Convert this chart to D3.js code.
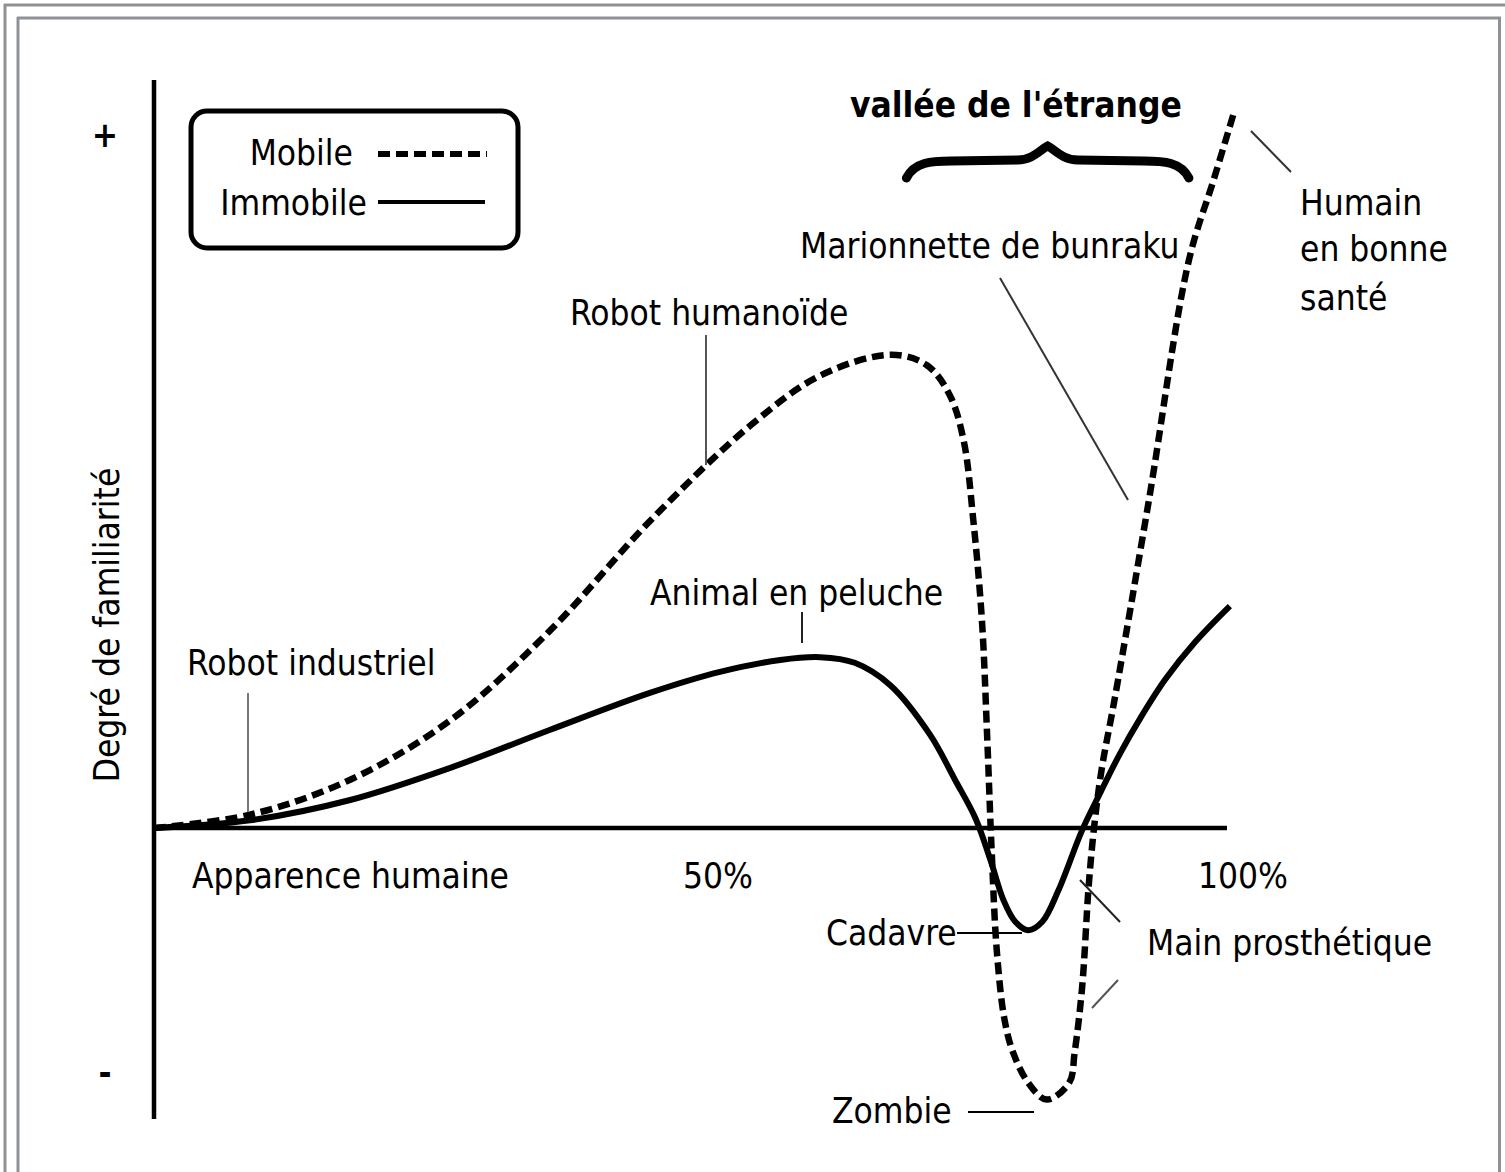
<!DOCTYPE html>
<html><head><meta charset="utf-8">
<script src="https://cdn.jsdelivr.net/npm/d3@7"></script>
<style>
html,body{margin:0;padding:0;background:#fff;}
svg{display:block;}
text{font-family:"DejaVu Sans Condensed","DejaVu Sans",sans-serif;font-stretch:condensed;fill:#000;}
</style></head><body>
<svg id="c" width="1505" height="1172"></svg>
<script>
// ---- data (x: human likeness %, y: familiarity) ----
const mobileX = [0, 8.9, 18.2, 27.5, 36.8, 46.1, 55.4, 61.9, 68.4, 71.7, 73.8, 75.1, 76.0, 76.8, 77.3, 77.7, 78.2, 78.9, 79.7, 81.1, 82.8, 84.9, 85.4, 86.1, 86.7, 87.2, 87.9, 89.1, 92.3, 96.0, 98.3, 100.2];
const mobileY = [0, 1.9, 6.9, 15.4, 28.3, 44.0, 57.6, 64.7, 67.6, 66.1, 61.9, 55.4, 44.0, 29.7, 12.6, -3.1, -17.9, -27.4, -32.1, -36.4, -38.8, -36.4, -32.1, -22.7, -8.4, 0, 8.3, 18.3, 46.9, 81.1, 92.6, 102.3];
const immobileX = [0, 8.9, 18.2, 27.5, 36.7, 46.0, 52.5, 58.1, 61.8, 65.0, 68.3, 72.0, 74.3, 76.2, 77.6, 78.8, 79.9, 81.1, 82.4, 83.9, 86.1, 87.8, 89.6, 91.5, 93.8, 96.6, 99.8];
const immobileY = [0, 1.1, 4.0, 8.6, 14.0, 19.3, 22.3, 24.0, 24.4, 23.6, 20.4, 13.3, 6.9, 1.4, -4.6, -10.3, -13.4, -14.6, -13.4, -8.9, -0.3, 5.1, 10.6, 15.7, 21.2, 26.6, 31.7];
const seriesNames = ["Mobile", "Immobile"];
const xTickValues = [0, 50, 100];
const xTickLabels = ["Apparence humaine", "50%", "100%"];
const yTickValues = [99, -35];
const yTickLabels = ["+", "-"];
const yAxisTitle = "Degré de familiarité";
const valleyTitle = "vallée de l'étrange";
const valleyRange = [69.8, 96.0];

const svg = d3.select("#c");
const W = 1505, H = 1172;
svg.append("rect").attr("width", W).attr("height", H).attr("fill", "#fff");

// frame
const frame = svg.append("g").attr("stroke", "#8e9297").attr("stroke-width", 3).attr("fill", "none");
frame.append("line").attr("x1", 4).attr("y1", 5).attr("x2", W).attr("y2", 5);
frame.append("line").attr("x1", 5).attr("y1", 4).attr("x2", 5).attr("y2", H);
frame.append("line").attr("x1", 17).attr("y1", 18).attr("x2", 1501).attr("y2", 18);
frame.append("line").attr("x1", 18).attr("y1", 17).attr("x2", 18).attr("y2", H);
frame.append("line").attr("x1", 1499.5).attr("y1", 17).attr("x2", 1499.5).attr("y2", H);

const x = d3.scaleLinear().domain([0, 100]).range([154, 1232]);
const y = d3.scaleLinear().domain([-40, 100]).range([1108, 128]);
const FS = 35;

// axes
svg.append("line").attr("x1", 154).attr("y1", 80).attr("x2", 154).attr("y2", 1119)
  .attr("stroke", "#000").attr("stroke-width", 4.5);
svg.append("line").attr("x1", 152).attr("y1", y(0)).attr("x2", 1227).attr("y2", y(0))
  .attr("stroke", "#000").attr("stroke-width", 4.5);

// x tick labels
const xOff = [38, 25, 11];
const xAnchor = ["start", "middle", "middle"];
xTickValues.forEach((v, i) => {
  svg.append("text").attr("x", x(v) + xOff[i]).attr("y", 888)
    .attr("text-anchor", xAnchor[i]).attr("font-size", FS).text(xTickLabels[i]);
});
// y tick labels
yTickValues.forEach((v, i) => {
  svg.append("text").attr("x", 105).attr("y", y(v) + 12)
    .attr("text-anchor", "middle").attr("font-size", FS).attr("font-weight", "bold").text(yTickLabels[i]);
});
// y title
svg.append("text").attr("transform", "translate(119,625) rotate(-90)")
  .attr("text-anchor", "middle").attr("font-size", FS).text(yAxisTitle);

// curves
const line = d3.line().x(d => x(d[0])).y(d => y(d[1])).curve(d3.curveCatmullRom.alpha(0.5));
const mobile = mobileX.map((v, i) => [v, mobileY[i]]);
const immobile = immobileX.map((v, i) => [v, immobileY[i]]);
svg.append("path").attr("d", line(immobile)).attr("fill", "none").attr("stroke", "#000")
  .attr("stroke-width", 6).attr("stroke-linejoin", "round");
svg.append("path").attr("d", line(mobile)).attr("fill", "none").attr("stroke", "#000")
  .attr("stroke-width", 6.5).attr("stroke-dasharray", "12,6");

// legend
svg.append("rect").attr("x", 191).attr("y", 111).attr("width", 327).attr("height", 137)
  .attr("rx", 16).attr("fill", "#fff").attr("stroke", "#000").attr("stroke-width", 5);
svg.append("text").attr("x", 353).attr("y", 165).attr("text-anchor", "end").attr("font-size", FS).text(seriesNames[0]);
svg.append("text").attr("x", 367).attr("y", 215).attr("text-anchor", "end").attr("font-size", FS).text(seriesNames[1]);
svg.append("line").attr("x1", 378).attr("y1", 154).attr("x2", 487).attr("y2", 154)
  .attr("stroke", "#000").attr("stroke-width", 6).attr("stroke-dasharray", "12,6");
svg.append("line").attr("x1", 378).attr("y1", 202).attr("x2", 485).attr("y2", 202)
  .attr("stroke", "#000").attr("stroke-width", 4);

// valley brace + title
const bx0 = x(valleyRange[0]), bx1 = x(valleyRange[1]), bm = (bx0 + bx1) / 2;
svg.append("path")
  .attr("d", `M${bx0},178 C${bx0+8},162 ${bx0+25},161 ${bx0+45},161 L${bm-30},160 C${bm-15},160 ${bm-8},150 ${bm},146 C${bm+8},150 ${bm+15},160 ${bm+30},160 L${bx1-45},161 C${bx1-25},161 ${bx1-8},162 ${bx1},178`)
  .attr("fill", "none").attr("stroke", "#000").attr("stroke-width", 9).attr("stroke-linecap", "round");
svg.append("text").attr("x", 850).attr("y", 117).attr("font-size", FS).attr("font-weight", "bold").text(valleyTitle);

// annotations
const ann = svg.append("g");
const lab = (tx, ty, t) => ann.append("text").attr("x", tx).attr("y", ty).attr("font-size", FS).text(t);
const ptr = (x1, y1, x2, y2, c) => ann.append("line").attr("x1", x1).attr("y1", y1).attr("x2", x2).attr("y2", y2)
  .attr("stroke", c || "#333").attr("stroke-width", 2);
lab(187, 675, "Robot industriel"); ptr(248, 693, 248, 812, "#777");
lab(570, 325, "Robot humanoïde"); ptr(706, 335, 706, 465, "#555");
lab(650, 605, "Animal en peluche"); ptr(802, 612, 802, 643, "#222");
lab(800, 258, "Marionnette de bunraku"); ptr(1000, 278, 1128, 500, "#333");
lab(1300, 215, "Humain"); lab(1300, 261, "en bonne"); lab(1300, 310, "santé");
ptr(1251, 131, 1291, 172, "#333");
lab(826, 945, "Cadavre"); ptr(957, 933, 1022, 933, "#000");
lab(832, 1123, "Zombie"); ptr(968, 1112, 1034, 1112, "#000");
lab(1147, 955, "Main prosthétique");
ptr(1080, 880, 1120, 922, "#222"); ptr(1092, 1008, 1118, 980, "#555");
</script>
</body></html>
